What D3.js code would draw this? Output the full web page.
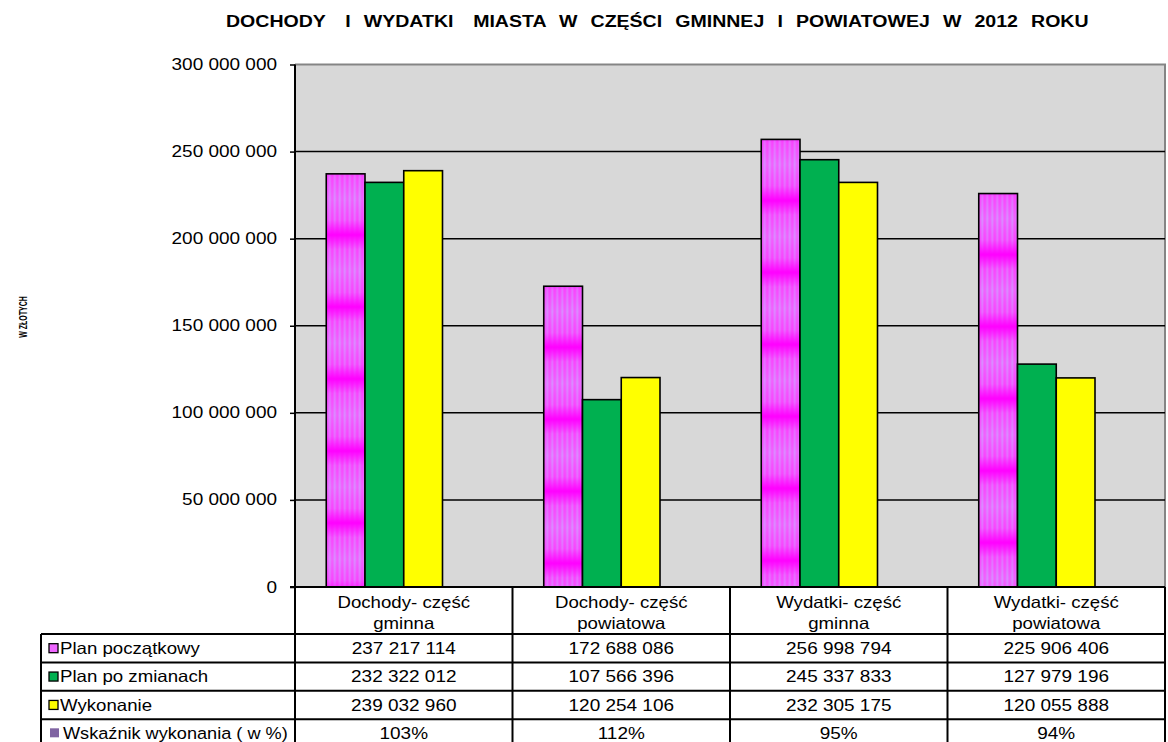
<!DOCTYPE html>
<html lang="pl">
<head>
<meta charset="utf-8" />
<title>Dochody i wydatki miasta 2012</title>
<script src="https://cdn.jsdelivr.net/npm/d3@7"></script>
<style>
  body { margin: 0; background: #fff; }
  svg { display: block; }
  text { font-family: "Liberation Sans", Arial, sans-serif; fill: #000; }
</style>
</head>
<body>
<script>
  // chart data
  const categories = [
    ["Dochody- część", "gminna"],
    ["Dochody- część", "powiatowa"],
    ["Wydatki- część", "gminna"],
    ["Wydatki- część", "powiatowa"]
  ];
  const seriesNames = ["Plan początkowy", "Plan po zmianach", "Wykonanie", "Wskaźnik wykonania ( w %)"];
  const planPoczatkowy = [237217114, 172688086, 256998794, 225906406];
  const planPoZmianach = [232322012, 107566396, 245337833, 127979196];
  const wykonanie = [239032960, 120254106, 232305175, 120055888];
  const wskaznik = [1.03, 1.12, 0.95, 0.94];   // plotted too, but far too small to see
  const yTicks = [0, 50000000, 100000000, 150000000, 200000000, 250000000, 300000000];

  const seriesValues = [planPoczatkowy, planPoZmianach, wykonanie, wskaznik];
  const seriesColors = ["#ff00ff", "#00b050", "#ffff00", "#8064a2"];

  const W = 1168, H = 742;
  const plot = {left: 295, right: 1165, top: 64.5, bottom: 587};
  const tableBottom = 747.5;
  const sxNum = 1.15;   // the original picture is stretched a bit horizontally
  const sxTxt = 1.13;
  const fs = 16.5;

  const svg = d3.select("body").append("svg")
      .attr("width", W)
      .attr("height", H);

  const defs = svg.append("defs");

  // scales
  const y = d3.scaleLinear([0, 300000000], [plot.bottom, plot.top]);
  const xCell = d3.scaleBand(d3.range(categories.length), [plot.left, plot.right]);
  const xGroup = d3.scaleBand(d3.range(categories.length), [plot.left, plot.right])
      .paddingInner(0.2874)
      .paddingOuter(0.1437);
  const xSeries = d3.scaleBand(d3.range(seriesNames.length), [0, xGroup.bandwidth()]);
  const yRow = d3.scaleBand(seriesNames, [634, tableBottom]);

  const fmtNum = v => d3.format(",")(v).replace(/,/g, " ");
  const fmtPct = d3.format(".0%");

  function stretchedText(g, x, yy, str, anchor, size, bold, sx) {
    return g.append("text")
      .attr("transform", `translate(${x},${yy}) scale(${sx},1)`)
      .attr("text-anchor", anchor)
      .attr("dominant-baseline", "central")
      .style("font-size", size + "px")
      .style("font-weight", bold ? "bold" : "normal")
      .style("white-space", "pre")
      .text(str);
  }

  // title
  stretchedText(svg, 226, 21, "DOCHODY   I  WYDATKI   MIASTA  W  CZĘŚCI  GMINNEJ  I  POWIATOWEJ  W  2012  ROKU", "start", 17, true, 1.15)
      .style("word-spacing", "1px");

  // y axis title
  svg.append("text")
      .attr("transform", "translate(23,317) rotate(-90) scale(1,1.6)")
      .attr("text-anchor", "middle")
      .attr("dominant-baseline", "central")
      .style("font-size", "7px")
      .style("font-weight", "bold")
      .text("W ZŁOTYCH");

  // plot background
  svg.append("rect")
      .attr("x", plot.left)
      .attr("y", plot.top)
      .attr("width", plot.right - plot.left)
      .attr("height", plot.bottom - plot.top)
      .attr("fill", "#d8d8d8");

  svg.append("path")
      .attr("d", `M${plot.left},${plot.top}H${plot.right}V${plot.bottom}`)
      .attr("fill", "none")
      .attr("stroke", "#858585")
      .attr("stroke-width", 2);

  // gridlines
  svg.append("g")
      .selectAll("line")
      .data(yTicks.filter(t => t > 0 && t < 300000000))
      .join("line")
      .attr("x1", plot.left)
      .attr("x2", plot.right)
      .attr("y1", d => y(d))
      .attr("y2", d => y(d))
      .attr("stroke", "#000")
      .attr("stroke-width", 1.5);

  // y axis
  const yAxisG = svg.append("g")
      .attr("transform", `translate(${plot.left},0)`)
      .call(d3.axisLeft(y).tickValues(yTicks).tickSize(5).tickFormat(""));
  yAxisG.select(".domain").remove();
  yAxisG.selectAll("line").attr("stroke-width", 1.5);
  yTicks.forEach(t => stretchedText(svg, 277, y(t), fmtNum(t), "end", fs, false, sxNum));

  // magenta bars use a striped / banded fill, one pattern per bar
  function addMagentaPattern(id, x0, y0) {
    const gBase = defs.append("linearGradient")
        .attr("id", id + "g1").attr("x1", 0).attr("x2", 0).attr("y1", 0).attr("y2", 1);
    [[0, "#ff00ff"], [0.2, "#f845ff"], [0.5, "#f062ff"], [0.8, "#f845ff"], [1, "#ff00ff"]]
      .forEach(s => gBase.append("stop").attr("offset", s[0]).attr("stop-color", s[1]));
    const gStripe = defs.append("linearGradient")
        .attr("id", id + "g2").attr("x1", 0).attr("x2", 0).attr("y1", 0).attr("y2", 1);
    [[0, "#ff00ff"], [0.2, "#e670ff"], [0.5, "#d890ff"], [0.8, "#e670ff"], [1, "#ff00ff"]]
      .forEach(s => gStripe.append("stop").attr("offset", s[0]).attr("stop-color", s[1]));
    const p = defs.append("pattern")
        .attr("id", id)
        .attr("patternUnits", "userSpaceOnUse")
        .attr("width", 5)
        .attr("height", 72)
        .attr("patternTransform", `translate(${x0},${y0})`);
    p.append("rect").attr("width", 5).attr("height", 72).attr("fill", `url(#${id}g1)`);
    p.append("rect").attr("x", 2.5).attr("width", 2).attr("height", 72).attr("fill", `url(#${id}g2)`);
  }

  // bars
  const barData = [];
  seriesValues.forEach((vals, s) => {
    vals.forEach((v, c) => barData.push({s, c, v}));
  });

  barData.forEach(d => {
    d.x = xGroup(d.c) + xSeries(d.s);
    d.y = y(d.v);
    if (d.s === 0) {
      d.pat = "pm" + d.c;
      addMagentaPattern(d.pat, d.x, d.y + 61);
    }
  });

  svg.append("g")
      .selectAll("rect")
      .data(barData)
      .join("rect")
      .attr("x", d => d.x)
      .attr("y", d => d.y)
      .attr("width", xSeries.bandwidth())
      .attr("height", d => y(0) - y(d.v))
      .attr("fill", d => d.s === 0 ? `url(#${d.pat})` : seriesColors[d.s])
      .attr("stroke", d => d.s === 3 ? "none" : "#000")
      .attr("stroke-width", 1.6);

  // data table
  const table = svg.append("g");
  table.append("rect")
      .attr("x", plot.left)
      .attr("y", plot.bottom)
      .attr("width", plot.right - plot.left)
      .attr("height", tableBottom - plot.bottom)
      .attr("fill", "#fff");
  table.append("rect")
      .attr("x", 41)
      .attr("y", 634)
      .attr("width", plot.left - 41)
      .attr("height", tableBottom - 634)
      .attr("fill", "#fff");

  const lineStyle = sel => sel.attr("stroke", "#000").attr("stroke-width", 2);

  // horizontal lines
  table.append("line")
      .attr("x1", 290).attr("x2", plot.right)
      .attr("y1", plot.bottom).attr("y2", plot.bottom)
      .call(lineStyle);
  table.selectAll(".hrow")
      .data(seriesNames)
      .join("line")
      .attr("class", "hrow")
      .attr("x1", 41).attr("x2", plot.right)
      .attr("y1", d => yRow(d)).attr("y2", d => yRow(d))
      .call(lineStyle);

  // vertical lines
  table.selectAll(".vcol")
      .data(d3.range(categories.length + 1))
      .join("line")
      .attr("class", "vcol")
      .attr("x1", i => i < categories.length ? xCell(i) : plot.right)
      .attr("x2", i => i < categories.length ? xCell(i) : plot.right)
      .attr("y1", plot.bottom).attr("y2", tableBottom)
      .call(lineStyle);
  table.append("line")
      .attr("x1", 41).attr("x2", 41)
      .attr("y1", 634).attr("y2", tableBottom)
      .call(lineStyle);
  table.append("line")
      .attr("x1", plot.left).attr("x2", plot.left)
      .attr("y1", plot.top).attr("y2", plot.bottom)
      .call(lineStyle);

  // category headers
  categories.forEach((lines, c) => {
    const cx = xCell(c) + xCell.bandwidth() / 2;
    stretchedText(table, cx, 602, lines[0], "middle", fs, false, sxTxt);
    stretchedText(table, cx, 623, lines[1], "middle", fs, false, sxTxt);
  });

  // legend keys and row labels
  seriesNames.forEach((name, s) => {
    const cy = yRow(name) + yRow.bandwidth() / 2;
    if (s < 3) {
      table.append("rect")
          .attr("x", 49).attr("y", cy - 4.5)
          .attr("width", 9).attr("height", 9)
          .attr("fill", s === 0 ? "#ee66ff" : seriesColors[s])
          .attr("stroke", "#000")
          .attr("stroke-width", 1.3);
      stretchedText(table, 60, cy, name, "start", fs, false, sxTxt);
    } else {
      table.append("rect")
          .attr("x", 50).attr("y", cy - 5)
          .attr("width", 9).attr("height", 9)
          .attr("fill", seriesColors[s]);
      stretchedText(table, 63, cy, name, "start", fs, false, 1.1);
    }
    seriesValues[s].forEach((v, c) => {
      const cx = xCell(c) + xCell.bandwidth() / 2;
      stretchedText(table, cx, cy, s === 3 ? fmtPct(v) : fmtNum(v), "middle", fs, false, sxNum);
    });
  });
</script>
</body>
</html>
